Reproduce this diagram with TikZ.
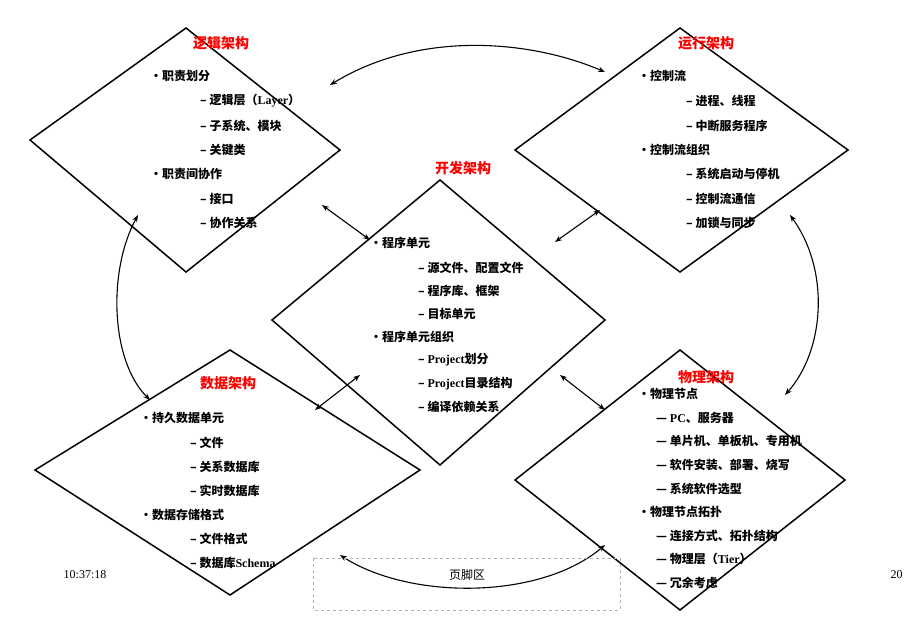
\documentclass[tikz,border=0pt]{standalone}
\usepackage{fontspec}
\setmainfont{Liberation Serif}
\newfontfamily\cjk{Noto Sans CJK SC}
\newcommand{\lt}[1]{{\rmfamily\bfseries #1}}
\usetikzlibrary{arrows.meta}
\begin{document}
\begin{tikzpicture}[x=1pt,y=-1pt,
  dia/.style={draw,line width=1.5pt},
  ttl/.style={text=red,font=\cjk\bfseries\fontsize{14}{16}\selectfont},
  itm/.style={anchor=west,font=\cjk\bfseries\fontsize{12}{14}\selectfont,inner sep=0pt},
  link/.style={{Stealth[length=7pt]}-{Stealth[length=7pt]},line width=1.1pt}]
\useasboundingbox (0,0) rectangle (905,623);
\fill[white] (0,0) rectangle (905,623);
% diamonds
\draw[dia] (186,28) -- (340,150) -- (186,272) -- (30,140) -- cycle;
\draw[dia] (680,28) -- (848,150) -- (680,272) -- (515,150) -- cycle;
\draw[dia] (440,180) -- (605,320) -- (440,465) -- (272,320) -- cycle;
\draw[dia] (230,350) -- (420,470) -- (230,595) -- (35,470) -- cycle;
\draw[dia] (680,350) -- (845,480) -- (680,610) -- (515,480) -- cycle;
% titles
\node[ttl] (t1) at (221,43) {逻辑架构};
\node[ttl] (t2) at (706,43) {运行架构};
\node[ttl] (t3) at (463,168) {开发架构};
\node[ttl] (t4) at (228,383) {数据架构};
\node[ttl] (t5) at (706,377) {物理架构};
% logic
\node[itm] at (150,76) {·职责划分};
\node[itm] at (200,101) {– 逻辑层（\lt{Layer}）};
\node[itm] at (200,126) {– 子系统、模块};
\node[itm] at (200,150) {– 关键类};
\node[itm] at (150,174) {·职责间协作};
\node[itm] at (200,199) {– 接口};
\node[itm] at (200,223) {– 协作关系};
% runtime
\node[itm] at (638,76) {·控制流};
\node[itm] at (686,101) {– 进程、线程};
\node[itm] at (686,126) {– 中断服务程序};
\node[itm] at (638,150) {·控制流组织};
\node[itm] at (686,174) {– 系统启动与停机};
\node[itm] at (686,199) {– 控制流通信};
\node[itm] at (686,223) {– 加锁与同步};
% dev
\node[itm] at (370,243) {·程序单元};
\node[itm] at (418,268) {– 源文件、配置文件};
\node[itm] at (418,291) {– 程序库、框架};
\node[itm] at (418,314) {– 目标单元};
\node[itm] at (370,337) {·程序单元组织};
\node[itm] at (418,360) {– \lt{Project}划分};
\node[itm] at (418,384) {– \lt{Project}目录结构};
\node[itm] at (418,407) {– 编译依赖关系};
% data
\node[itm] at (140,418) {·持久数据单元};
\node[itm] at (190,443) {– 文件};
\node[itm] at (190,467) {– 关系数据库};
\node[itm] at (190,491) {– 实时数据库};
\node[itm] at (140,515) {·数据存储格式};
\node[itm] at (190,539) {– 文件格式};
\node[itm] at (190,563) {– 数据库\lt{Schema}};
% physical
\node[itm] at (638,394) {·物理节点};
\node[itm] at (656,418) {— \lt{PC}、服务器};
\node[itm] at (656,441) {— 单片机、单板机、专用机};
\node[itm] at (656,465) {— 软件安装、部署、烧写};
\node[itm] at (656,489) {— 系统软件选型};
\node[itm] at (638,512) {·物理节点拓扑};
\node[itm] at (656,536) {— 连接方式、拓扑结构};
\node[itm] at (656,559) {— 物理层（\lt{Tier}）};
\node[itm] at (656,583) {— 冗余考虑};
% connectors
\coordinate (a1) at (330,85); \coordinate (a2) at (605,72);
\draw[link] (a1) .. controls (420,30) and (530,40) .. (a2);
\coordinate (b1) at (322,205); \coordinate (b2) at (370,240);
\draw[link] (b1) -- (b2);
\coordinate (c1) at (555,242); \coordinate (c2) at (600,210);
\draw[link] (c1) -- (c2);
\coordinate (d1) at (360,375); \coordinate (d2) at (315,410);
\draw[link] (d1) -- (d2);
\coordinate (e1) at (560,375); \coordinate (e2) at (605,410);
\draw[link] (e1) -- (e2);
\coordinate (f1) at (138,215); \coordinate (f2) at (150,400);
\draw[link] (f1) .. controls (108,270) and (110,360) .. (f2);
\coordinate (g1) at (790,215); \coordinate (g2) at (785,395);
\draw[link] (g1) .. controls (830,270) and (825,350) .. (g2);
\coordinate (h1) at (340,555); \coordinate (h2) at (605,545);
\draw[link] (h1) .. controls (410,600) and (540,600) .. (h2);
% footer
\draw[gray!60,dashed] (313,558) rectangle (620,610);
\node[font=\cjk\fontsize{12}{14}\selectfont,fill=white,inner sep=1pt] (ft) at (467,575) {页脚区};
\node[font=\fontsize{12}{14}\selectfont] (tm) at (85,575) {10:37:18};
\node[font=\fontsize{12}{14}\selectfont,anchor=west] (pg) at (887,575) {20};
\end{tikzpicture}
\end{document}
